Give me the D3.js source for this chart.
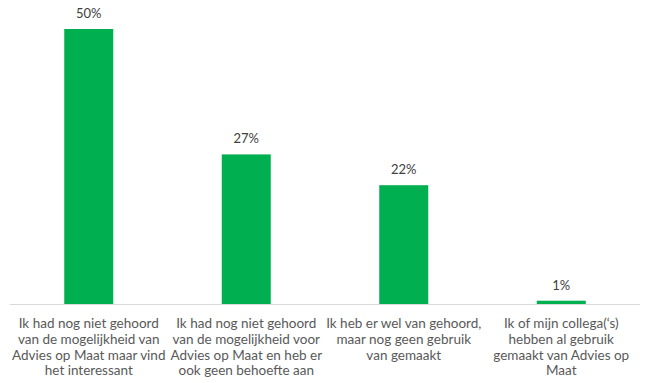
<!DOCTYPE html>
<html><head><meta charset="utf-8">
<script src="https://cdn.jsdelivr.net/npm/d3@7"></script>
<style>body{margin:0;background:#fff}svg{display:block}</style>
</head><body>
<svg id="c" width="645" height="383"></svg>
<script>
const categories = [
  ["Ik had nog niet gehoord","van de mogelijkheid van","Advies op Maat maar vind","het interessant"],
  ["Ik had nog niet gehoord","van de mogelijkheid voor","Advies op Maat en heb er","ook geen behoefte aan"],
  ["Ik heb er wel van gehoord,","maar nog geen gebruik","van gemaakt"],
  ["Ik of mijn collega(‘s)","hebben al gebruik","gemaakt van Advies op","Maat"]
];
const values = [50, 27.2, 21.6, 0.6];
const valueLabels = ["50%", "27%", "22%", "1%"];

const svg = d3.select("#c");
const left = 10, right = 640, baseY = 304, topY = 29;
const ids = d3.range(categories.length);
const x = d3.scaleBand().domain(ids).range([left, right]).padding(0);
const y = d3.scaleLinear().domain([0, 50]).range([baseY, topY]);
const barW = 49;

svg.append("line").attr("x1", left).attr("x2", right).attr("y1", baseY + 0.5).attr("y2", baseY + 0.5)
  .attr("stroke", "#d9d9d9").attr("stroke-width", 1);

svg.selectAll("rect.bar").data(ids).enter().append("rect")
  .attr("class", "bar")
  .attr("x", i => x(i) + x.bandwidth()/2 - barW/2)
  .attr("width", barW)
  .attr("y", i => y(values[i]))
  .attr("height", i => baseY - y(values[i]))
  .attr("fill", "#00B050");

svg.selectAll("text.val").data(ids).enter().append("text")
  .attr("class", "val")
  .attr("x", i => x(i) + x.bandwidth()/2)
  .attr("y", i => y(values[i]) - 11)
  .attr("text-anchor", "middle")
  .attr("font-family", "Lato, Carlito, sans-serif")
  .attr("font-size", 13)
  .attr("fill", "#404040")
  .text(i => valueLabels[i]);

const g = svg.selectAll("text.cat").data(ids).enter().append("text")
  .attr("class", "cat")
  .attr("text-anchor", "middle")
  .attr("font-family", "Lato, Carlito, sans-serif")
  .attr("font-size", 13.5)
  .attr("fill", "#595959");
g.each(function(i){
  const t = d3.select(this);
  categories[i].forEach((line, k) => {
    t.append("tspan").attr("x", x(i) + x.bandwidth()/2).attr("y", 328 + k*15.8).text(line);
  });
});
</script>
</body></html>
